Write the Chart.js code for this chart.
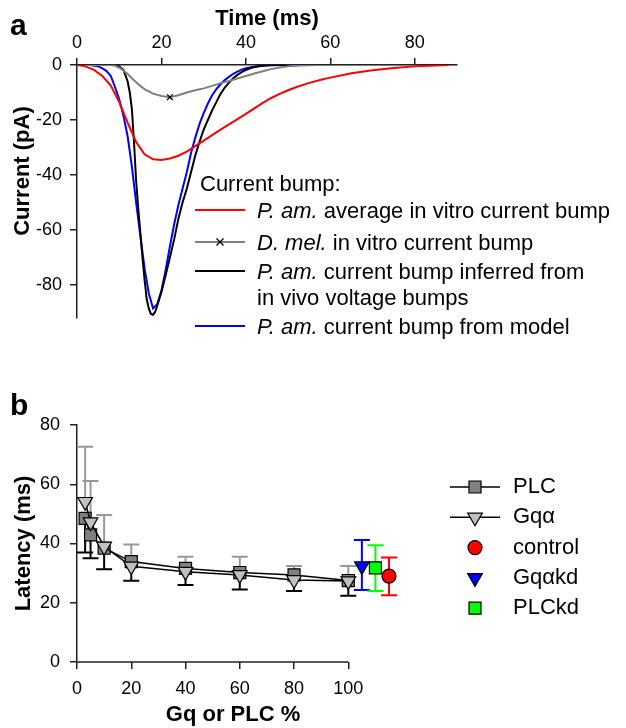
<!DOCTYPE html>
<html>
<head>
<meta charset="utf-8">
<script src="https://cdn.jsdelivr.net/npm/chart.js@4.4.1/dist/chart.umd.min.js"></script>
<style>
  body { margin: 0; background: #fff; }
  #wrap { position: relative; width: 626px; height: 728px; }
  canvas { position: absolute; left: 0; }
</style>
</head>
<body>
<div id="wrap">
  <canvas id="bumps" width="626" height="360" style="top:0"></canvas>
  <canvas id="latency" width="626" height="358" style="top:370px"></canvas>
</div>
<script>
// ---- panel a: current bumps (time in ms, current in pA)
const redTime = [0, 2, 4, 6, 8, 10, 12, 14, 16, 18, 20, 22, 24, 26, 28, 30, 32, 34, 36, 38, 40, 42, 44, 46, 48, 50, 52, 55, 58, 60, 65, 70, 75, 80, 85, 88];
const redCurrent = [0, -0.5, -1.8, -4, -7.5, -13.5, -21, -28, -32.5, -34.3, -34.5, -34, -33, -31.5, -29.5, -27.5, -25.5, -23.5, -21.6, -19.7, -17.8, -15.8, -13.8, -12, -10.5, -9.2, -8, -6.5, -5.3, -4.6, -3, -1.9, -1.1, -0.5, -0.2, 0];

const grayTime = [0, 8, 9, 10, 11, 12, 13, 14, 15, 16, 18, 20, 22, 24, 26, 28, 30, 32, 34, 36, 38, 40, 42, 44, 46, 48, 50, 53, 57, 90];
const grayCurrent = [0, 0, -0.3, -1, -2, -3.3, -4.8, -6.3, -7.6, -8.8, -10.4, -11.3, -11.7, -11, -10, -9.2, -8.5, -7.6, -6.6, -5.8, -4.9, -4, -3.1, -2.3, -1.5, -0.9, -0.5, -0.2, 0, 0];
const grayMarkerIndex = 12;

const blackTime = [0, 9, 10, 11, 12, 12.5, 13, 13.5, 14, 14.5, 15, 15.5, 16, 16.5, 17, 17.5, 18, 18.5, 19, 20, 21, 22, 23, 24, 25, 26, 27, 28, 29, 30, 31, 32, 33, 34, 35, 36, 37, 38, 39, 40, 41, 42, 44, 46, 50];
const blackCurrent = [0, 0, -0.5, -1.8, -6, -10, -16, -28, -42, -52, -61, -70, -78, -85, -88.5, -90.5, -90.8, -89.8, -87.5, -82.5, -76.5, -70, -63.5, -56, -50, -45, -39, -33, -28, -23.5, -20, -16.5, -13.5, -10.5, -8.2, -6.4, -4.8, -3.6, -2.6, -1.8, -1.2, -0.7, -0.2, 0, 0];

const blueTime = [0, 3, 5, 6, 7, 8, 9, 10, 11, 12, 13, 14, 15, 16, 17, 18, 19, 20, 21, 22, 23, 24, 25, 26, 27, 28, 29, 30, 31, 32, 33, 34, 35, 36, 37, 38, 39, 40, 42, 44, 46, 50, 56];
const blueCurrent = [0, 0, -0.5, -1.2, -2.2, -4, -8, -12.5, -18.5, -26, -37, -50, -62, -74, -83, -88.5, -87, -82, -74.5, -66, -58, -51, -45, -39, -32, -26.5, -21.5, -17.5, -14, -11, -8.8, -7, -5.5, -4.3, -3.2, -2.4, -1.7, -1.2, -0.6, -0.25, -0.1, 0, 0];

const timeTicks = [0, 20, 40, 60, 80];
const currentTicks = [0, -20, -40, -60, -80];

// ---- panel b: latency vs Gq / PLC level
const pctLevels = [3, 5, 10, 20, 40, 60, 80, 100];
const plcLatency = [48.5, 42.9, 38.4, 33.9, 31.6, 30.2, 29.4, 27.5];
const plcLower = [37.0, 35.0, 31.3, 27.4, 26.0, 24.5, 24.0, 22.4];
const gqLatency = [54.1, 47.2, 39.0, 32.3, 30.5, 29.4, 27.7, 27.3];
const gqUpper = [72.7, 61.1, 49.6, 39.7, 35.5, 35.5, 32.4, 32.4];

const gqKdPct = [105], gqKdLatency = [32.4], gqKdLow = [24.3], gqKdHigh = [41.2];
const plcKdPct = [110], plcKdLatency = [31.8], plcKdLow = [24.0], plcKdHigh = [39.4];
const controlPct = [115], controlLatency = [29.0], controlLow = [22.5], controlHigh = [35.3];

const pctTicks = [0, 20, 40, 60, 80, 100];
const latencyTicks = [0, 20, 40, 60, 80];

const FONT = '"Liberation Sans", Arial, sans-serif';
Chart.defaults.font.family = FONT;
Chart.defaults.color = '#000';

const pts = (xs, ys) => xs.map((x, i) => ({ x: x, y: ys[i] }));
const setTicks = list => scale => { scale.ticks = list.map(v => ({ value: v })); };
const AXIS = '#222';

// ------------------------------------------------------------ panel a
const bumpRows = [
  { color: '#ff0000', y: 210, species: 'P. am.', text: 'average in vitro current bump' },
  { color: '#808080', y: 242, species: 'D. mel.', text: 'in vitro current bump', marker: true },
  { color: '#000000', y: 271, species: 'P. am.', text: 'current bump inferred from', text2: 'in vivo voltage bumps' },
  { color: '#0000ff', y: 326, species: 'P. am.', text: 'current bump from model' }
];

function drawCross(ctx, x, y, r) {
  ctx.save();
  ctx.strokeStyle = '#000';
  ctx.lineWidth = 1.3;
  ctx.beginPath();
  ctx.moveTo(x - r, y - r); ctx.lineTo(x + r, y + r);
  ctx.moveTo(x - r, y + r); ctx.lineTo(x + r, y - r);
  ctx.stroke();
  ctx.restore();
}

const bumpDecor = {
  id: 'bumpDecor',
  afterDraw(chart) {
    const ctx = chart.ctx;
    ctx.save();
    ctx.fillStyle = '#000';
    ctx.textBaseline = 'alphabetic';
    ctx.font = 'bold 30px ' + FONT;
    ctx.fillText('a', 10, 35);

    // y title sits a little above the axis middle in the original
    ctx.save();
    ctx.translate(23, 171);
    ctx.rotate(-Math.PI / 2);
    ctx.font = 'bold 22px ' + FONT;
    ctx.textAlign = 'center';
    ctx.textBaseline = 'middle';
    ctx.fillText('Current (pA)', 0, 0);
    ctx.restore();

    ctx.font = '22px ' + FONT;
    ctx.fillText('Current bump:', 200, 191);
    bumpRows.forEach(row => {
      ctx.strokeStyle = row.color;
      ctx.lineWidth = 2;
      ctx.beginPath();
      ctx.moveTo(195, row.y);
      ctx.lineTo(245, row.y);
      ctx.stroke();
      if (row.marker) drawCross(ctx, 220, row.y, 3.5);
      let x = 257;
      ctx.font = 'italic 22px ' + FONT;
      ctx.fillText(row.species, x, row.y + 8);
      x += ctx.measureText(row.species + ' ').width;
      ctx.font = '22px ' + FONT;
      ctx.fillText(row.text, x, row.y + 8);
      if (row.text2) ctx.fillText(row.text2, 257, row.y + 34);
    });
    ctx.restore();
  }
};

new Chart(document.getElementById('bumps'), {
  type: 'line',
  data: {
    datasets: [
      { data: pts(redTime, redCurrent), borderColor: '#ff0000', borderWidth: 2, pointRadius: 0 },
      {
        data: pts(grayTime, grayCurrent), borderColor: '#808080', borderWidth: 2,
        pointStyle: 'crossRot',
        pointRadius: ctx => (ctx.dataIndex === grayMarkerIndex ? 4 : 0),
        pointBorderColor: '#000', pointBorderWidth: 1.3
      },
      { data: pts(blackTime, blackCurrent), borderColor: '#000000', borderWidth: 2, pointRadius: 0 },
      { data: pts(blueTime, blueCurrent), borderColor: '#0000ff', borderWidth: 2, pointRadius: 0 }
    ]
  },
  options: {
    responsive: false,
    animation: false,
    devicePixelRatio: 1,
    layout: { padding: { left: 0, top: 0, right: 169, bottom: 42 } },
    plugins: { legend: { display: false }, tooltip: { enabled: false } },
    scales: {
      x: {
        type: 'linear', position: 'top', min: 0, max: 90,
        afterBuildTicks: setTicks(timeTicks),
        afterFit: s => { s.height = 65; },
        ticks: { padding: 4, font: { size: 18 }, color: '#000', maxRotation: 0, autoSkip: false },
        grid: { drawOnChartArea: false, tickLength: 7, color: AXIS, lineWidth: 1.5 },
        border: { color: AXIS, width: 1.5 },
        title: { display: true, text: 'Time (ms)', font: { size: 22, weight: 'bold' }, padding: { top: 6, bottom: 0 }, color: '#000' }
      },
      y: {
        type: 'linear', min: -92, max: 0,
        afterBuildTicks: setTicks(currentTicks),
        afterFit: s => { s.width = 77; },
        ticks: { padding: 8, font: { size: 18 }, color: '#000', autoSkip: false },
        grid: { drawOnChartArea: false, tickLength: 7, color: AXIS, lineWidth: 1.5 },
        border: { color: AXIS, width: 1.5 }
      }
    }
  },
  plugins: [bumpDecor]
});

// ------------------------------------------------------------ panel b
const errorSegments = [
  { color: '#999999', x: pctLevels, from: gqLatency, to: gqUpper },
  { color: '#000000', x: pctLevels, from: plcLatency, to: plcLower },
  { color: '#0000ff', x: gqKdPct, from: gqKdLatency, to: gqKdHigh },
  { color: '#0000ff', x: gqKdPct, from: gqKdLatency, to: gqKdLow },
  { color: '#00ff00', x: plcKdPct, from: plcKdLatency, to: plcKdHigh },
  { color: '#00ff00', x: plcKdPct, from: plcKdLatency, to: plcKdLow },
  { color: '#ff0000', x: controlPct, from: controlLatency, to: controlHigh },
  { color: '#ff0000', x: controlPct, from: controlLatency, to: controlLow }
];

const latencyRows = [
  { label: 'PLC', line: true, style: 'rect', fill: '#808080', r: 8.5 },
  { label: 'Gq\u03b1', line: true, style: 'triangle', fill: '#c0c0c0', r: 8.5 },
  { label: 'control', style: 'circle', fill: '#ff0000', r: 7 },
  { label: 'Gq\u03b1kd', style: 'triangle', fill: '#0000ff', r: 8.5 },
  { label: 'PLCkd', style: 'rect', fill: '#00ff00', r: 8.5 }
];

function drawMarker(ctx, style, x, y, r, fill) {
  ctx.save();
  ctx.fillStyle = fill;
  ctx.strokeStyle = '#000';
  ctx.lineWidth = 1.2;
  ctx.beginPath();
  if (style === 'rect') {
    const h = r * Math.SQRT1_2;
    ctx.rect(x - h, y - h, 2 * h, 2 * h);
  } else if (style === 'triangle') {
    ctx.moveTo(x, y + r);
    ctx.lineTo(x - r * Math.sqrt(3) / 2, y - r / 2);
    ctx.lineTo(x + r * Math.sqrt(3) / 2, y - r / 2);
    ctx.closePath();
  } else {
    ctx.arc(x, y, r, 0, Math.PI * 2);
  }
  ctx.fill();
  ctx.stroke();
  ctx.restore();
}

const latencyDecor = {
  id: 'latencyDecor',
  beforeDatasetsDraw(chart) {
    const { ctx, scales: { x, y }, chartArea } = chart;
    ctx.save();
    // x axis line only up to 100 %
    ctx.strokeStyle = AXIS;
    ctx.lineWidth = 1.5;
    ctx.beginPath();
    ctx.moveTo(x.getPixelForValue(0) - 0.75, chartArea.bottom);
    ctx.lineTo(x.getPixelForValue(100), chartArea.bottom);
    ctx.stroke();
    // error bars
    ctx.lineWidth = 2;
    errorSegments.forEach(seg => {
      ctx.strokeStyle = seg.color;
      seg.x.forEach((xv, i) => {
        const px = x.getPixelForValue(xv);
        const y0 = y.getPixelForValue(seg.from[i]);
        const y1 = y.getPixelForValue(seg.to[i]);
        ctx.beginPath();
        ctx.moveTo(px, y0);
        ctx.lineTo(px, y1);
        ctx.moveTo(px - 8, y1);
        ctx.lineTo(px + 8, y1);
        ctx.stroke();
      });
    });
    ctx.restore();
  },
  afterDraw(chart) {
    const ctx = chart.ctx;
    ctx.save();
    ctx.fillStyle = '#000';
    ctx.font = 'bold 30px ' + FONT;
    ctx.textBaseline = 'alphabetic';
    ctx.fillText('b', 10, 45);

    ctx.font = '22px ' + FONT;
    ctx.textBaseline = 'middle';
    latencyRows.forEach((row, i) => {
      const ly = 117 + i * 30.3;
      if (row.line) {
        ctx.strokeStyle = '#000';
        ctx.lineWidth = 1.5;
        ctx.beginPath();
        ctx.moveTo(450, ly);
        ctx.lineTo(500, ly);
        ctx.stroke();
      }
      drawMarker(ctx, row.style, 475, ly, row.r, row.fill);
      ctx.fillStyle = '#000';
      ctx.fillText(row.label, 513, ly);
    });
    ctx.restore();
  }
};

new Chart(document.getElementById('latency'), {
  type: 'line',
  data: {
    datasets: [
      {
        label: 'Gq\u03b1', data: pts(pctLevels, gqLatency), borderColor: '#000', borderWidth: 1.5,
        pointStyle: 'triangle', pointRotation: 180, pointRadius: 8.5,
        pointBackgroundColor: '#c0c0c0', pointBorderColor: '#000', pointBorderWidth: 1.2, clip: false
      },
      {
        label: 'PLC', data: pts(pctLevels, plcLatency), borderColor: '#000', borderWidth: 1.5,
        pointStyle: 'rect', pointRadius: 8.5,
        pointBackgroundColor: '#808080', pointBorderColor: '#000', pointBorderWidth: 1.2, clip: false
      },
      {
        label: 'Gq\u03b1kd', data: pts(gqKdPct, gqKdLatency), showLine: false,
        pointStyle: 'triangle', pointRotation: 180, pointRadius: 8.5,
        pointBackgroundColor: '#0000ff', pointBorderColor: '#000', pointBorderWidth: 1.2, clip: false
      },
      {
        label: 'PLCkd', data: pts(plcKdPct, plcKdLatency), showLine: false,
        pointStyle: 'rect', pointRadius: 8.5,
        pointBackgroundColor: '#00ff00', pointBorderColor: '#000', pointBorderWidth: 1.2, clip: false
      },
      {
        label: 'control', data: pts(controlPct, controlLatency), showLine: false,
        pointStyle: 'circle', pointRadius: 7,
        pointBackgroundColor: '#ff0000', pointBorderColor: '#000', pointBorderWidth: 1.2, clip: false
      }
    ]
  },
  options: {
    responsive: false,
    animation: false,
    devicePixelRatio: 1,
    layout: { padding: { left: 0, top: 55, right: 237, bottom: 0 } },
    plugins: { legend: { display: false }, tooltip: { enabled: false } },
    scales: {
      x: {
        type: 'linear', min: 0, max: 115,
        afterBuildTicks: setTicks(pctTicks),
        afterFit: s => { s.height = 66; },
        ticks: { padding: 9, font: { size: 18 }, color: '#000', maxRotation: 0, autoSkip: false },
        grid: { drawOnChartArea: false, tickLength: 7, color: AXIS, lineWidth: 1.5 },
        border: { display: false },
        title: { display: true, text: 'Gq or PLC %', font: { size: 22, weight: 'bold' }, padding: { top: 0, bottom: 0 }, color: '#000' }
      },
      y: {
        type: 'linear', min: 0, max: 80,
        afterBuildTicks: setTicks(latencyTicks),
        afterFit: s => { s.width = 77; },
        ticks: { padding: 10, font: { size: 18 }, color: '#000', autoSkip: false },
        grid: { drawOnChartArea: false, tickLength: 7, color: AXIS, lineWidth: 1.5 },
        border: { color: AXIS, width: 1.5 },
        title: { display: true, text: 'Latency (ms)', font: { size: 22, weight: 'bold' }, padding: { top: 11, bottom: 0 }, color: '#000' }
      }
    }
  },
  plugins: [latencyDecor]
});
</script>
</body>
</html>
